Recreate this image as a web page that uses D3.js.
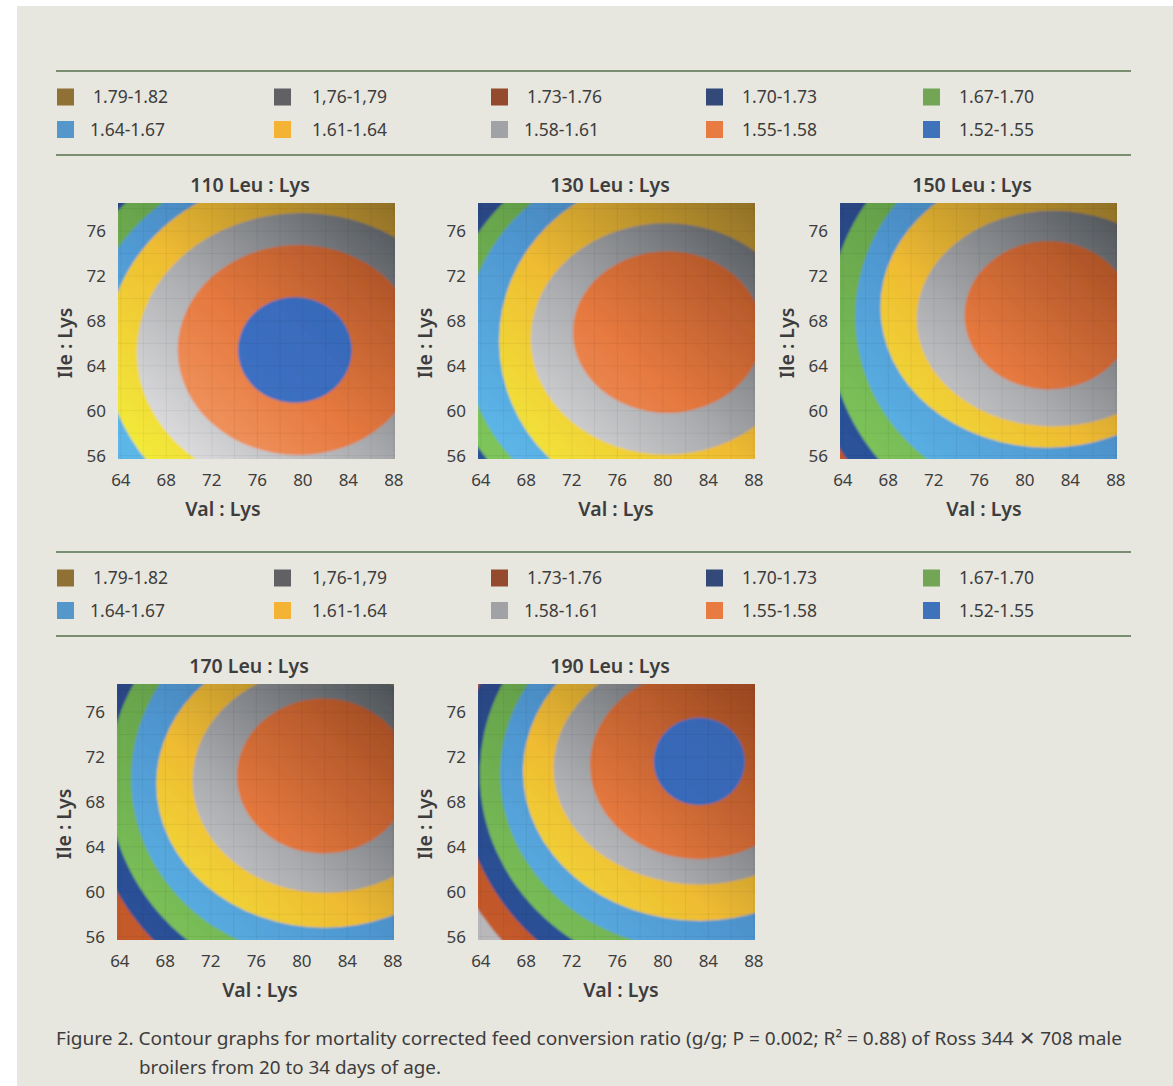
<!DOCTYPE html>
<html>
<head>
<meta charset="utf-8">
<script src="https://cdn.jsdelivr.net/npm/d3@7"></script>
<style>
body { margin: 0; background: #fff; }
text { font-family: "Noto Sans", sans-serif; fill: #3d3d3d; }
</style>
</head>
<body>
<svg id="chart" width="1173" height="1086"></svg>
<script>
var legendLabels = ["1.79-1.82", "1,76-1,79", "1.73-1.76", "1.70-1.73", "1.67-1.70",
                    "1.64-1.67", "1.61-1.64", "1.58-1.61", "1.55-1.58", "1.52-1.55"];
var legendColors = ["#8f7035", "#616165", "#944b2d", "#32497a", "#73a654",
                    "#5597cb", "#f5b335", "#a1a2a5", "#e87b41", "#3e72bb"];
var leuLevels = [110, 130, 150, 170, 190];
var valTicks = [64, 68, 72, 76, 80, 84, 88];
var ileTicks = [56, 60, 64, 68, 72, 76];

// contour boundaries:
// [upper FCR of the band inside, centre Val:Lys, centre Ile:Lys, half width (Val), half height (Ile)]
var rings110 = [
    [1.73, 79.5, 65.0, 23.0, 21.5],
    [1.70, 79.5, 65.0, 21.0, 19.4],
    [1.67, 79.5, 65.0, 18.8, 17.4],
    [1.64, 79.5, 65.2, 16.8, 15.6],
    [1.61, 79.9, 65.2, 14.5, 12.4],
    [1.58, 79.6, 65.4, 10.6, 9.35],
    [1.55, 79.3, 65.4, 5.0, 4.7]
];
var rings130 = [
    [1.73, 80.3, 66.3, 22.0, 20.5],
    [1.70, 80.3, 66.3, 19.5, 18.0],
    [1.67, 80.3, 66.3, 17.7, 16.4],
    [1.64, 80.3, 66.2, 14.7, 14.6],
    [1.61, 80.3, 66.4, 11.9, 10.3],
    [1.58, 80.4, 67.0, 8.3, 7.2]
];
var rings150 = [
    [1.76, 82.0, 67.8, 23.5, 23.0],
    [1.73, 82.0, 67.8, 21.5, 21.2],
    [1.70, 82.0, 67.8, 19.3, 19.0],
    [1.67, 82.0, 68.4, 16.9, 16.3],
    [1.64, 82.0, 69.2, 14.7, 12.5],
    [1.61, 82.5, 68.2, 12.0, 9.6],
    [1.58, 82.1, 68.5, 7.4, 6.6]
];
var rings170 = [
    [1.76, 82.0, 69.9, 23.5, 23.2],
    [1.73, 82.0, 69.9, 20.8, 20.6],
    [1.70, 82.0, 69.9, 19.0, 18.4],
    [1.67, 82.0, 70.1, 17.0, 16.1],
    [1.64, 82.0, 69.6, 14.8, 12.8],
    [1.61, 82.0, 69.9, 11.6, 10.0],
    [1.58, 81.9, 70.3, 7.6, 6.9]
];
var rings190 = [
    [1.79, 83.2, 70.5, 26.0, 25.5],
    [1.76, 83.2, 70.5, 23.0, 22.6],
    [1.73, 83.2, 70.5, 21.0, 20.2],
    [1.70, 83.2, 70.5, 19.3, 18.1],
    [1.67, 83.2, 70.5, 17.5, 15.7],
    [1.64, 83.2, 70.7, 15.5, 13.3],
    [1.61, 83.2, 71.0, 12.8, 10.35],
    [1.58, 83.2, 71.3, 9.6, 8.4],
    [1.55, 83.2, 71.6, 4.0, 3.9]
];
var panelRings = [rings110, rings130, rings150, rings170, rings190];

var caption1 = "Figure 2. Contour graphs for mortality corrected feed conversion ratio (g/g; P = 0.002; R\u00b2 = 0.88) of Ross 344 \u2715 708 male";
var caption2 = "broilers from 20 to 34 days of age.";

// band colours as they appear on the shaded surface: light (lower left), mid, dark (upper right)
var bandUpper = [1.55, 1.58, 1.61, 1.64, 1.67, 1.70, 1.73, 1.76, 1.79, 1.82];
var bandShades = [
    ["#4178c8", "#3b6ec0", "#3663ae"],
    ["#f7a472", "#e5793f", "#98461f"],
    ["#e6e6e8", "#aaabae", "#4c5156"],
    ["#f3ea3a", "#efbb32", "#8f7028"],
    ["#5cb6e8", "#4f96d0", "#3d6a94"],
    ["#7dc45a", "#69a64d", "#4a7a3a"],
    ["#2c5299", "#2c4785", "#1f2f5a"],
    ["#c45a2c", "#b0532d", "#7a3920"],
    ["#b8b8ba", "#808184", "#505256"],
    ["#a0803c", "#8d7034", "#5e4a24"]
];

var W = 277, H = 256;
var panelPos = [[118, 203], [478, 203], [840, 203], [117, 684], [478, 684]];
var xTitleDx = [105, 138, 144, 143, 143];
var legendTops = [71, 552];
var legendCols = [57, 274, 491, 706, 923];
var legendTextDx = [[36, 38, 36, 36, 36], [33, 38, 33, 36, 36]];

var svg = d3.select("#chart");
var defs = svg.append("defs");

defs.append("filter").attr("id", "soft")
    .append("feGaussianBlur").attr("stdDeviation", 1.3);
defs.append("clipPath").attr("id", "plotclip")
    .append("rect").attr("width", W).attr("height", H);

bandShades.forEach(function(s, i) {
    var g = defs.append("linearGradient")
        .attr("id", "band" + i)
        .attr("gradientUnits", "userSpaceOnUse")
        .attr("x1", 30).attr("y1", H).attr("x2", W).attr("y2", 0);
    g.append("stop").attr("offset", 0).attr("stop-color", s[0]);
    g.append("stop").attr("offset", 0.45).attr("stop-color", s[1]);
    g.append("stop").attr("offset", 1).attr("stop-color", s[2]);
});

function bandIndex(level) {
    return Math.round((level - 1.55) / 0.03);
}

svg.append("rect")
    .attr("x", 17).attr("y", 6).attr("width", 1156).attr("height", 1080)
    .attr("fill", "#e7e6df");

// legends
legendTops.forEach(function(top) {
    svg.append("line").attr("x1", 56).attr("x2", 1131).attr("y1", top).attr("y2", top)
        .attr("stroke", "#55704b").attr("stroke-width", 1.3);
    svg.append("line").attr("x1", 56).attr("x2", 1131).attr("y1", top + 84).attr("y2", top + 84)
        .attr("stroke", "#55704b").attr("stroke-width", 1.3);

    legendLabels.forEach(function(lab, i) {
        var row = Math.floor(i / 5), col = i % 5;
        var cy = top + 26 + row * 32.5;
        svg.append("rect")
            .attr("x", legendCols[col]).attr("y", cy - 8.5)
            .attr("width", 17).attr("height", 17)
            .attr("fill", legendColors[i]);
        svg.append("text")
            .attr("x", legendCols[col] + legendTextDx[row][col]).attr("y", cy + 6)
            .attr("font-size", 17.5)
            .text(lab);
    });
});

var x = d3.scaleLinear().domain([63.75, 88.1]).range([0, W]);
var y = d3.scaleLinear().domain([55.7, 78.5]).range([H, 0]);

leuLevels.forEach(function(leu, p) {
    var g = svg.append("g")
        .attr("transform", "translate(" + panelPos[p][0] + "," + panelPos[p][1] + ")");
    var rings = panelRings[p];

    var surf = g.append("g").attr("clip-path", "url(#plotclip)")
        .append("g").attr("filter", "url(#soft)");

    surf.append("rect")
        .attr("x", -10).attr("y", -10).attr("width", W + 20).attr("height", H + 20)
        .attr("fill", "url(#band" + (bandIndex(rings[0][0]) + 1) + ")");

    surf.selectAll("ellipse")
        .data(rings)
        .join("ellipse")
        .attr("cx", function(d) { return x(d[1]); })
        .attr("cy", function(d) { return y(d[2]); })
        .attr("rx", function(d) { return x(d[1] + d[3]) - x(d[1]); })
        .attr("ry", function(d) { return y(d[2]) - y(d[2] + d[4]); })
        .attr("fill", function(d) { return "url(#band" + bandIndex(d[0]) + ")"; });

    // faint tiles of the surface mesh
    var grid = g.append("g").attr("clip-path", "url(#plotclip)");
    grid.selectAll("line.v")
        .data(d3.range(64, 89, 2))
        .join("line").attr("class", "v")
        .attr("x1", function(d) { return x(d); }).attr("x2", function(d) { return x(d); })
        .attr("y1", 0).attr("y2", H)
        .attr("stroke", "#000").attr("stroke-opacity", 0.05);
    grid.selectAll("line.h")
        .data(d3.range(56, 79, 2))
        .join("line").attr("class", "h")
        .attr("y1", function(d) { return y(d); }).attr("y2", function(d) { return y(d); })
        .attr("x1", 0).attr("x2", W)
        .attr("stroke", "#000").attr("stroke-opacity", 0.05);

    g.selectAll("text.xt")
        .data(valTicks)
        .join("text").attr("class", "xt")
        .attr("x", function(d) { return x(d); })
        .attr("y", H + 27)
        .attr("text-anchor", "middle")
        .attr("font-size", 17)
        .attr("fill", "#444")
        .text(function(d) { return d; });

    g.selectAll("text.yt")
        .data(ileTicks)
        .join("text").attr("class", "yt")
        .attr("x", -12)
        .attr("y", function(d) { return y(d) + 6; })
        .attr("text-anchor", "end")
        .attr("font-size", 17)
        .attr("fill", "#444")
        .text(function(d) { return d; });

    g.append("text")
        .attr("x", 132).attr("y", -11)
        .attr("text-anchor", "middle")
        .attr("font-size", 19.5).attr("font-weight", 600)
        .text(leu + " Leu : Lys");

    g.append("text")
        .attr("x", xTitleDx[p]).attr("y", H + 57)
        .attr("text-anchor", "middle")
        .attr("font-size", 19.5).attr("font-weight", 600)
        .text("Val : Lys");

    g.append("text")
        .attr("transform", "translate(-46," + 140 + ") rotate(-90)")
        .attr("text-anchor", "middle")
        .attr("font-size", 19.5).attr("font-weight", 600)
        .text("Ile : Lys");
});

svg.append("text")
    .attr("x", 56).attr("y", 1045)
    .attr("font-size", 18.5)
    .attr("textLength", 1066).attr("lengthAdjust", "spacingAndGlyphs")
    .text(caption1);
svg.append("text")
    .attr("x", 139).attr("y", 1074)
    .attr("font-size", 18.5)
    .attr("textLength", 302).attr("lengthAdjust", "spacingAndGlyphs")
    .text(caption2);
</script>
</body>
</html>
